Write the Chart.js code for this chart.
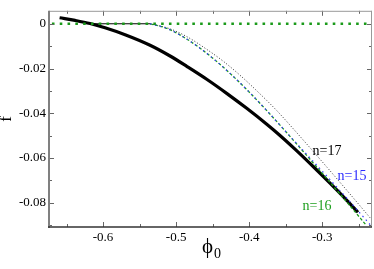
<!DOCTYPE html>
<html><head><meta charset="utf-8">
<script src="https://cdn.jsdelivr.net/npm/chart.js@4/dist/chart.umd.min.js"></script>
<style>html,body{margin:0;padding:0;background:#fff}#w{width:374px;height:269px}</style>
</head><body><div id="w"><canvas id="c" width="374" height="269"></canvas></div>
<script>
// ---- data ----
const xRange = [-0.674, -0.232];
const yRange = [-0.0908, 0.0058];
const xMajorTicks = [-0.6, -0.5, -0.4, -0.3];
const xMinorTicks = [-0.65, -0.55, -0.45, -0.35, -0.25];
const yMajorTicks = [0, -0.02, -0.04, -0.06, -0.08];
const yMinorTicks = [-0.01, -0.03, -0.05, -0.07, -0.09];

const zeroPhi = [-0.670, -0.232];
const zeroF = [0, 0];

const thickPhi = [-0.6595,-0.6383,-0.6178,-0.5973,-0.5699,-0.5357,-0.5083,-0.4851,-0.4577,-0.4304,-0.4030,-0.3756,-0.3579,-0.3374,-0.3118,-0.2895,-0.2690,-0.2512];
const thickF   = [0.0027,0.0015,0.0001,-0.0018,-0.0049,-0.0096,-0.0144,-0.0191,-0.0249,-0.0312,-0.0379,-0.0450,-0.0499,-0.0560,-0.0640,-0.0712,-0.0780,-0.0842];

const thinPhi = [-0.656, -0.635, -0.615, -0.5357];
const thinF   = [0.0025, 0.0012, 0.0, 0.0];

const n16Phi = [-0.5357,-0.5124,-0.4906,-0.4673,-0.4440,-0.4222,-0.3989,-0.3757,-0.3524,-0.3306,-0.3073,-0.2854,-0.2622,-0.2402];
const n16F   = [0,-0.0021,-0.0058,-0.0109,-0.0170,-0.0234,-0.0309,-0.0389,-0.0473,-0.0554,-0.0641,-0.0724,-0.0813,-0.0899];

const n15Phi = [-0.5357,-0.5124,-0.4906,-0.4673,-0.4440,-0.4222,-0.3989,-0.3757,-0.3524,-0.3306,-0.3073,-0.2854,-0.2622,-0.2347];
const n15F   = [0,-0.0021,-0.0058,-0.0109,-0.0170,-0.0234,-0.0309,-0.0389,-0.0473,-0.0551,-0.0633,-0.0711,-0.0795,-0.0897];

const n17Phi = [-0.5357,-0.5097,-0.4851,-0.4605,-0.4345,-0.4112,-0.3866,-0.3620,-0.3387,-0.3168,-0.2936,-0.2717,-0.2485,-0.2320];
const n17F   = [0,-0.0021,-0.0058,-0.0109,-0.0170,-0.0234,-0.0309,-0.0389,-0.0473,-0.0554,-0.0641,-0.0724,-0.0813,-0.0877];

const labelTexts = ['n=17', 'n=15', 'n=16'];
const labelPhi = [-0.2936, -0.2594, -0.3073];
const labelF = [-0.0569, -0.0680, -0.0814];
const labelColors = ['#000000', '#2a2aff', '#20a020'];

const xTitle = 'ϕ';
const xTitleSub = '0';
const yTitle = 'f';

const pts = (xs, ys) => xs.map((x, i) => ({x: x, y: ys[i]}));
const SERIF = "'Liberation Serif','Times New Roman',serif";

const decorPlugin = {
  id: 'decor',
  afterDatasetsDraw(chart) {
    const ctx = chart.ctx, a = chart.chartArea;
    const xs = chart.scales.x, ys = chart.scales.y;
    ctx.save();
    ctx.strokeStyle = '#666';
    ctx.lineWidth = 1;
    const tickX = (v, len) => {
      const p = Math.round(xs.getPixelForValue(v)) + 0.5;
      ctx.beginPath();
      ctx.moveTo(p, a.bottom); ctx.lineTo(p, a.bottom - len);
      ctx.moveTo(p, a.top); ctx.lineTo(p, a.top + len);
      ctx.stroke();
    };
    const tickY = (v, len) => {
      const p = Math.round(ys.getPixelForValue(v)) + 0.5;
      ctx.beginPath();
      ctx.moveTo(a.left, p); ctx.lineTo(a.left + len, p);
      ctx.moveTo(a.right, p); ctx.lineTo(a.right - len, p);
      ctx.stroke();
    };
    xMajorTicks.forEach(v => tickX(v, 5));
    xMinorTicks.forEach(v => tickX(v, 3));
    yMajorTicks.forEach(v => tickY(v, 5));
    yMinorTicks.forEach(v => tickY(v, 3));
    ctx.strokeStyle = '#999';
    ctx.lineWidth = 1;
    ctx.beginPath();
    ctx.moveTo(a.left, a.top + 0.5); ctx.lineTo(a.right, a.top + 0.5);
    ctx.moveTo(a.right - 0.5, a.top); ctx.lineTo(a.right - 0.5, a.bottom);
    ctx.stroke();
    ctx.strokeStyle = '#808080';
    ctx.lineWidth = 2;
    ctx.beginPath();
    ctx.moveTo(a.left, a.top); ctx.lineTo(a.left, a.bottom + 1);
    ctx.stroke();
    ctx.strokeStyle = '#333';
    ctx.lineWidth = 1.5;
    ctx.beginPath();
    ctx.moveTo(a.left - 1, a.bottom); ctx.lineTo(a.right, a.bottom);
    ctx.stroke();
    ctx.font = '14px ' + SERIF;
    ctx.textAlign = 'center';
    ctx.textBaseline = 'middle';
    labelTexts.forEach((t, i) => {
      ctx.fillStyle = labelColors[i];
      ctx.fillText(t, xs.getPixelForValue(labelPhi[i]), ys.getPixelForValue(labelF[i]));
    });
    ctx.fillStyle = '#000';
    ctx.textAlign = 'center';
    ctx.textBaseline = 'alphabetic';
    ctx.font = '21px ' + SERIF;
    const cx = (a.left + a.right) / 2;
    ctx.fillText(xTitle, cx - 3, 253);
    ctx.font = '14px ' + SERIF;
    ctx.fillText(xTitleSub, cx + 7, 258);
    ctx.save();
    ctx.translate(11, (a.top + a.bottom) / 2);
    ctx.rotate(-Math.PI / 2);
    ctx.font = '17px ' + SERIF;
    ctx.fillText(yTitle, 0, 0);
    ctx.restore();
    ctx.restore();
  }
};

new Chart(document.getElementById('c'), {
  type: 'scatter',
  data: {
    datasets: [
      { data: pts(zeroPhi, zeroF), showLine: true, borderColor: '#1a9a1a', borderWidth: 2.6, borderDash: [2.6, 5.2], pointRadius: 0 },
      { data: pts(thinPhi, thinF), showLine: true, borderColor: '#000', borderWidth: 1, pointRadius: 0, cubicInterpolationMode: 'monotone' },
      { data: pts(n15Phi, n15F), showLine: true, borderColor: '#3a3aff', borderWidth: 1.2, borderDash: [1.5, 3.5], pointRadius: 0, cubicInterpolationMode: 'monotone' },
      { data: pts(n16Phi, n16F), showLine: true, borderColor: '#1a9a1a', borderWidth: 1.3, borderDash: [3, 2], pointRadius: 0, cubicInterpolationMode: 'monotone' },
      { data: pts(n17Phi, n17F), showLine: true, borderColor: '#333', borderWidth: 1, borderDash: [1, 2], pointRadius: 0, cubicInterpolationMode: 'monotone' },
      { data: pts(thickPhi, thickF), showLine: true, borderColor: '#000', borderWidth: 3.2, pointRadius: 0, cubicInterpolationMode: 'monotone' }
    ]
  },
  options: {
    responsive: false,
    animation: false,
    events: [],
    layout: { padding: { left: 0, right: 2, top: 1, bottom: 0 } },
    plugins: { legend: { display: false }, tooltip: { enabled: false } },
    scales: {
      x: {
        type: 'linear', min: xRange[0], max: xRange[1],
        grid: { display: false, drawTicks: false },
        border: { display: false },
        afterBuildTicks: s => { s.ticks = xMajorTicks.map(v => ({ value: v })); },
        afterFit: s => { s.height = 42; },
        ticks: { autoSkip: false, maxRotation: 0, padding: 3, color: '#000',
          font: { family: SERIF, size: 13 }, callback: v => v.toFixed(1) }
      },
      y: {
        type: 'linear', min: yRange[0], max: yRange[1],
        grid: { display: false, drawTicks: false },
        border: { display: false },
        afterBuildTicks: s => { s.ticks = yMajorTicks.map(v => ({ value: v })); },
        afterFit: s => { s.width = 49; },
        ticks: { autoSkip: false, padding: 3, color: '#000',
          font: { family: SERIF, size: 13 }, callback: v => (v === 0 ? '0' : v.toFixed(2)) }
      }
    }
  },
  plugins: [decorPlugin]
});
</script>
</body></html>
